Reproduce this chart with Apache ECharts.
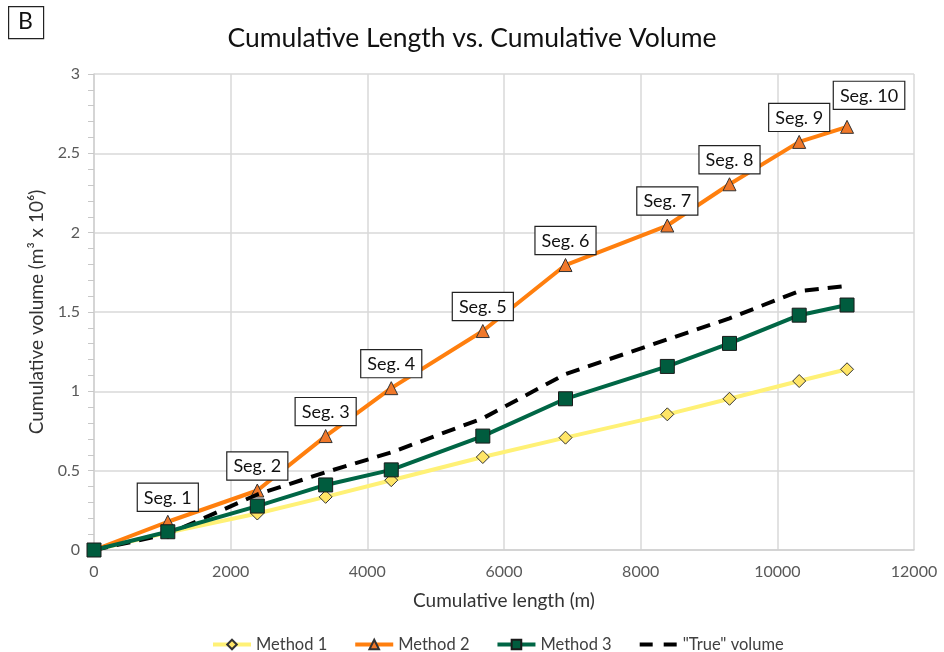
<!DOCTYPE html>
<html>
<head>
<meta charset="utf-8">
<script src="https://cdn.jsdelivr.net/npm/echarts@6/dist/echarts.min.js"></script>
<style>
  html, body { margin: 0; padding: 0; background: #fff; }
  #chart { width: 944px; height: 652px; }
</style>
</head>
<body>
<div id="chart"></div>
<script>
// Cumulative channel length (m) at the end of each segment
const lengths = [0, 1080, 2390, 3390, 4350, 5690, 6900, 8390, 9300, 10320, 11020];
// Cumulative volume (m³ x 10⁶) for each estimation method
const method1 = [0, 0.11, 0.23, 0.335, 0.44, 0.586, 0.708, 0.855, 0.953, 1.065, 1.139];
const method2 = [0, 0.178, 0.375, 0.718, 1.02, 1.38, 1.796, 2.045, 2.305, 2.572, 2.667];
const method3 = [0, 0.115, 0.277, 0.41, 0.505, 0.718, 0.953, 1.157, 1.302, 1.48, 1.544];
const trueVolume = [0, 0.10, 0.35, 0.49, 0.615, 0.83, 1.109, 1.327, 1.46, 1.632, 1.664];
// Segment callouts along Method 2
const segLabels = ['', 'Seg. 1', 'Seg. 2', 'Seg. 3', 'Seg. 4', 'Seg. 5', 'Seg. 6', 'Seg. 7', 'Seg. 8', 'Seg. 9', 'Seg. 10'];
const seriesNames = ['Method 1', 'Method 2', 'Method 3', '"True" volume'];

const FONT = 'Lato';
const pairs = (ys) => lengths.map((x, i) => [x, ys[i]]);

const chart = echarts.init(document.getElementById('chart'));

const m2Data = pairs(method2).map((p, i) => {
  const d = { value: p };
  if (!segLabels[i]) {
    d.label = { show: false };
  } else if (i === segLabels.length - 1) {
    d.label = { offset: [22, -7] };
  }
  return d;
});

chart.setOption({
  animation: false,
  backgroundColor: '#fff',
  textStyle: { fontFamily: FONT },
  title: {
    text: 'Cumulative Length vs. Cumulative Volume',
    left: 'center',
    top: 20,
    textStyle: { fontFamily: FONT, fontSize: 26.5, fontWeight: 'normal', color: '#111' }
  },
  graphic: [
    {
      type: 'rect',
      left: 8, top: 6,
      shape: { width: 35, height: 32 },
      style: { fill: '#fff', stroke: '#222', lineWidth: 1.2 }
    },
    {
      type: 'text',
      left: 18, top: 10,
      style: { text: 'B', font: '23px ' + FONT, fill: '#111' }
    }
  ],
  legend: {
    top: 631,
    left: 206,
    itemWidth: 38,
    itemHeight: 12,
    itemGap: 26,
    textStyle: { fontFamily: FONT, fontSize: 16.5, color: '#404040' },
    data: [
      { name: seriesNames[0], lineStyle: { width: 4 } },
      { name: seriesNames[1], lineStyle: { width: 4 } },
      { name: seriesNames[2], lineStyle: { width: 4 } },
      {
        name: seriesNames[3],
        itemStyle: { opacity: 0 },
        lineStyle: { type: [13, 11], width: 4, color: '#000' }
      }
    ]
  },
  grid: { left: 94, right: 30, top: 74, bottom: 102, containLabel: false },
  xAxis: {
    type: 'value',
    min: 0, max: 12000, interval: 2000,
    name: 'Cumulative length (m)',
    nameLocation: 'middle',
    nameGap: 41,
    nameTextStyle: { fontFamily: FONT, fontSize: 19, color: '#333' },
    axisLine: { show: true, lineStyle: { color: '#d0d0d0', width: 1.5 } },
    axisTick: { show: false },
    axisLabel: { fontFamily: FONT, fontSize: 16, color: '#595959', margin: 14, formatter: (v) => String(v) },
    splitLine: { show: true, lineStyle: { color: '#d9d9d9', width: 1.5 } }
  },
  yAxis: {
    type: 'value',
    min: 0, max: 3, interval: 0.5,
    name: 'Cumulative volume (m³ x 10⁶)',
    nameLocation: 'middle',
    nameGap: 43,
    nameRotate: 90,
    nameTextStyle: { fontFamily: FONT, fontSize: 19, color: '#333' },
    axisLine: { show: true, lineStyle: { color: '#d0d0d0', width: 1.5 } },
    axisTick: { show: true, length: 6, lineStyle: { color: '#c8c8c8' } },
    minorTick: { show: true, splitNumber: 5, length: 6, lineStyle: { color: '#c8c8c8' } },
    axisLabel: { fontFamily: FONT, fontSize: 16, color: '#595959', margin: 14 },
    splitLine: { show: true, lineStyle: { color: '#d9d9d9', width: 1.5 } }
  },
  series: [
    {
      name: seriesNames[0],
      type: 'line',
      data: pairs(method1),
      symbol: 'diamond',
      symbolSize: 13,
      lineStyle: { color: '#FFF176', width: 4 },
      itemStyle: { color: '#FFE566', borderColor: '#333', borderWidth: 1 },
      z: 2
    },
    {
      name: seriesNames[1],
      type: 'line',
      data: m2Data,
      symbol: 'triangle',
      symbolSize: 13,
      lineStyle: { color: '#FF7F0E', width: 4 },
      itemStyle: { color: '#F0782A', borderColor: '#333', borderWidth: 1 },
      label: {
        show: true,
        position: 'top',
        distance: 4,
        formatter: (p) => segLabels[p.dataIndex],
        fontFamily: FONT,
        fontSize: 18,
        color: '#111',
        backgroundColor: '#fff',
        borderColor: '#222',
        borderWidth: 1.2,
        padding: [5, 6, 4, 6]
      },
      z: 3
    },
    {
      name: seriesNames[2],
      type: 'line',
      data: pairs(method3),
      symbol: 'rect',
      symbolSize: 14,
      lineStyle: { color: '#006645', width: 4 },
      itemStyle: { color: '#005C3E', borderColor: '#1a1a1a', borderWidth: 1 },
      z: 5
    },
    {
      name: seriesNames[3],
      type: 'line',
      data: pairs(trueVolume),
      symbol: 'none',
      lineStyle: { color: '#000', width: 4, type: [14, 9] },
      itemStyle: { color: '#000' },
      z: 4
    }
  ]
});
</script>
</body>
</html>
